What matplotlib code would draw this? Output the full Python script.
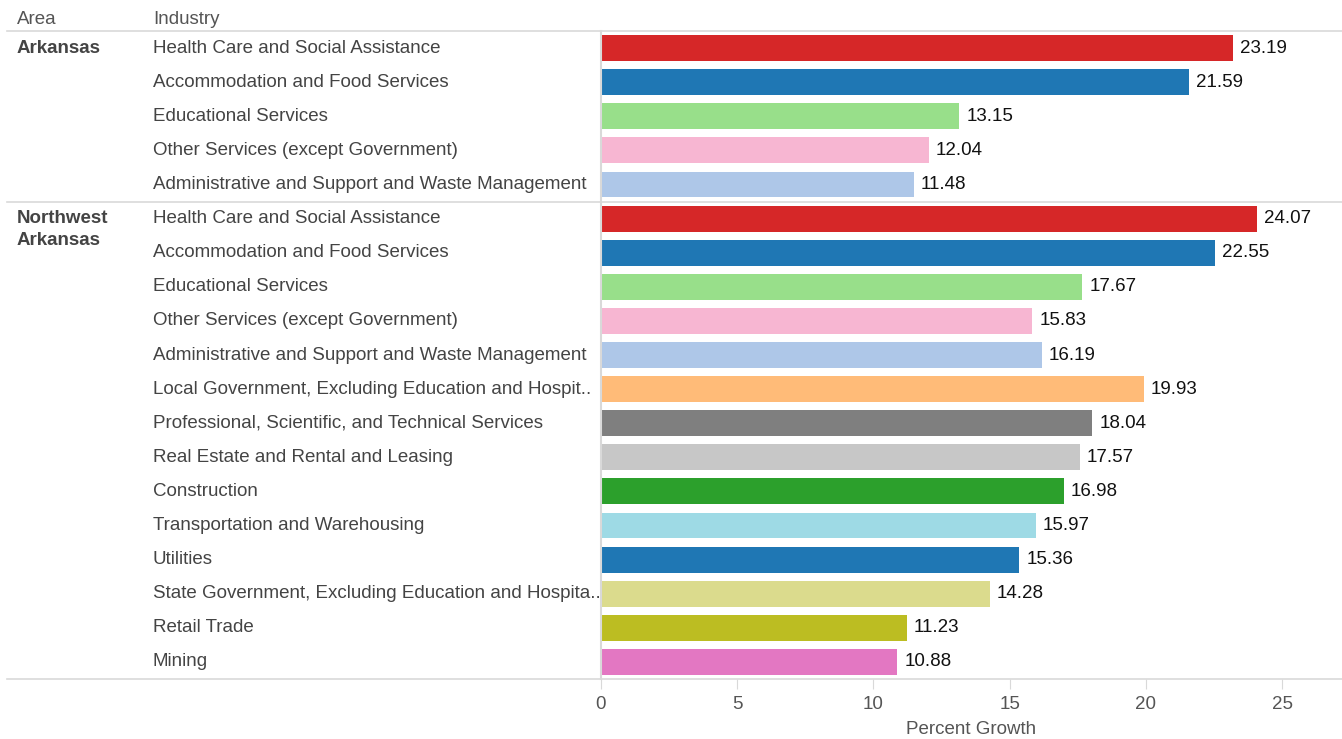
import matplotlib.pyplot as plt
import matplotlib.transforms as mtransforms

plt.rcParams['font.family'] = ['Liberation Sans', 'DejaVu Sans']

areas = ['Arkansas', 'Northwest\nArkansas']
area_sizes = [5, 14]

industries = [
    'Health Care and Social Assistance',
    'Accommodation and Food Services',
    'Educational Services',
    'Other Services (except Government)',
    'Administrative and Support and Waste Management',
    'Health Care and Social Assistance',
    'Accommodation and Food Services',
    'Educational Services',
    'Other Services (except Government)',
    'Administrative and Support and Waste Management',
    'Local Government, Excluding Education and Hospit..',
    'Professional, Scientific, and Technical Services',
    'Real Estate and Rental and Leasing',
    'Construction',
    'Transportation and Warehousing',
    'Utilities',
    'State Government, Excluding Education and Hospita..',
    'Retail Trade',
    'Mining',
]
growth = [23.19, 21.59, 13.15, 12.04, 11.48,
          24.07, 22.55, 17.67, 15.83, 16.19, 19.93, 18.04, 17.57,
          16.98, 15.97, 15.36, 14.28, 11.23, 10.88]
colors = ['#d62728', '#1f77b4', '#98df8a', '#f7b6d2', '#aec7e8',
          '#d62728', '#1f77b4', '#98df8a', '#f7b6d2', '#aec7e8', '#ffbb78',
          '#7f7f7f', '#c7c7c7', '#2ca02c', '#9edae5', '#1f77b4', '#dbdb8d',
          '#bcbd22', '#e377c2']

W, H = 1342, 739
fs = 13.5
fig = plt.figure(figsize=(W / 100, H / 100), dpi=100)
ax = fig.add_axes([601 / W, 1 - 679 / H, 1 - 601 / W, (679 - 31) / H])

rows = list(range(len(growth)))
ax.barh(rows, growth, height=0.76, color=colors)
ax.set_ylim(len(growth) - 0.5, -0.5)
ax.set_xlim(0, 27.2)

for y, v in zip(rows, growth):
    ax.annotate(f'{v:.2f}', (v, y), xytext=(5, 0),
                textcoords='offset points', va='center', ha='left',
                fontsize=fs, color='#111111')

for s in ['top', 'right', 'bottom']:
    ax.spines[s].set_visible(False)
ax.spines['left'].set_color('#d9d9d9')
ax.spines['left'].set_linewidth(1.5)
ax.set_yticks([])
ax.set_xticks([0, 5, 10, 15, 20, 25])
ax.tick_params(axis='x', length=7, color='#d9d9d9', labelsize=fs,
               labelcolor='#555555', pad=5)
ax.set_xlabel('Percent Growth', fontsize=fs, color='#555555', labelpad=6)

# row labels sit in figure x, data y
tr = mtransforms.blended_transform_factory(fig.transFigure, ax.transData)
for y, name in zip(rows, industries):
    fig.text(153 / W, y, name, transform=tr, va='center', ha='left',
             fontsize=fs, color='#444444')

start = 0
for area, n in zip(areas, area_sizes):
    for k, line in enumerate(area.split('\n')):
        fig.text(17 / W, start + k * 0.65, line, transform=tr,
                 va='center', ha='left', fontsize=fs, fontweight='bold',
                 color='#444444')
    ax.plot([7 / W, 1], [start - 0.5, start - 0.5], transform=tr,
            color='#d9d9d9', lw=1.2, clip_on=False)
    start += n
ax.plot([7 / W, 1], [start - 0.5, start - 0.5], transform=tr,
        color='#d9d9d9', lw=1.2, clip_on=False)

fig.text(17 / W, 1 - 19 / H, 'Area', va='center', ha='left', fontsize=fs,
         color='#555555')
fig.text(153 / W, 1 - 19 / H, 'Industry', va='center', ha='left', fontsize=fs,
         color='#555555')

fig.savefig('out.png', dpi=100, facecolor='white')
